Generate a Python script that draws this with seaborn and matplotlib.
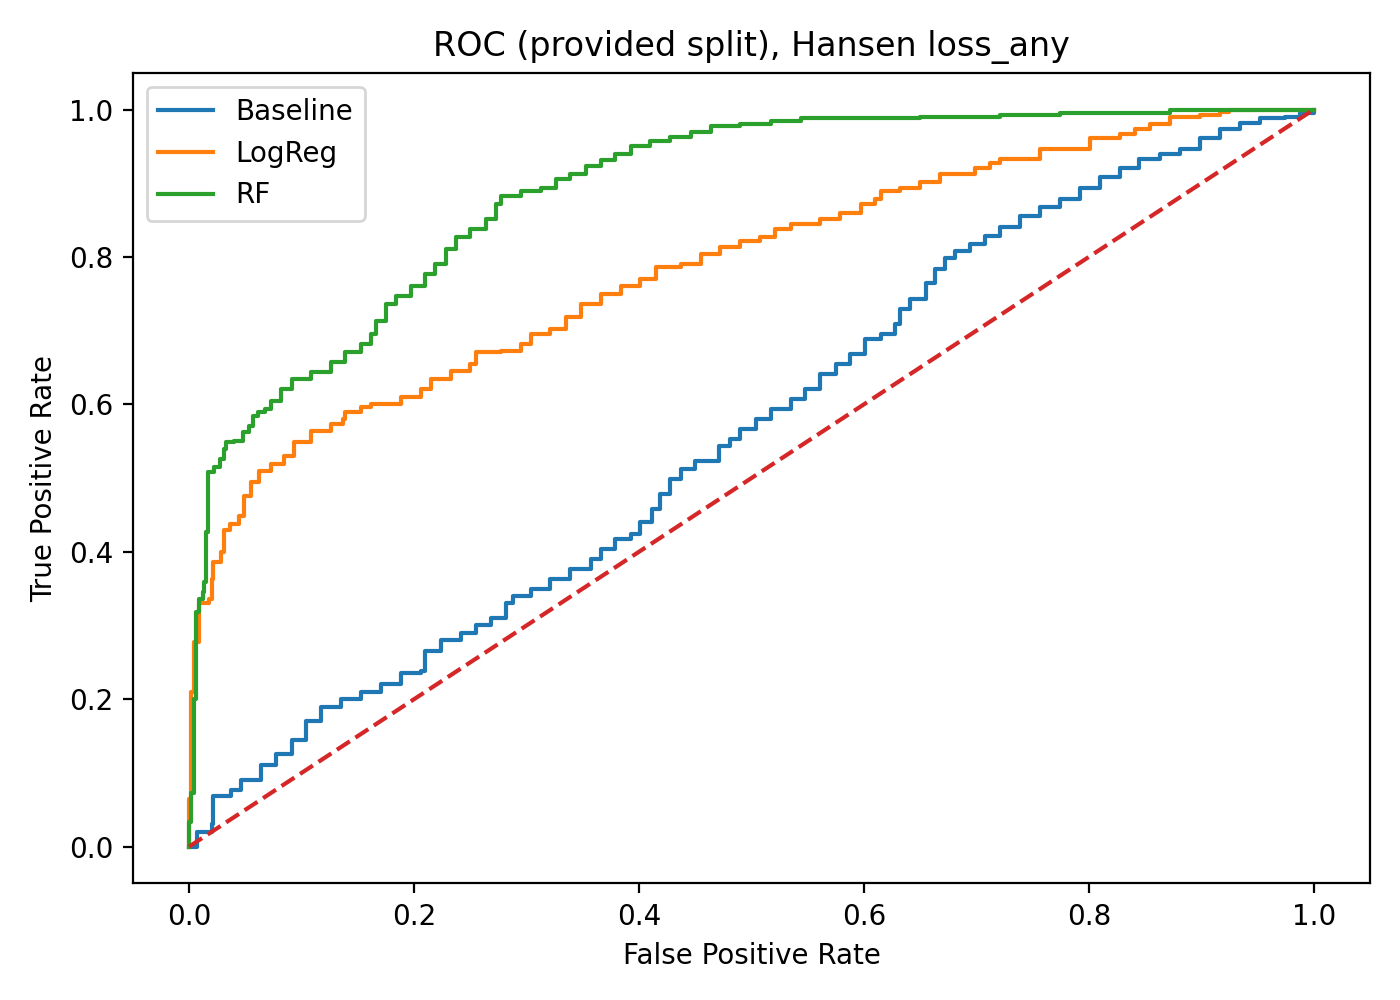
import pandas as pd
import numpy as np
import matplotlib
matplotlib.use("Agg")
import matplotlib.pyplot as plt
import seaborn as sns

# ROC points (false positive rate, true positive rate)
baseline_fpr = [0.0, 0.007, 0.02, 0.021, 0.037, 0.046, 0.064, 0.077, 0.091, 0.104, 0.117, 0.135,
                0.153, 0.171, 0.188, 0.206, 0.21, 0.224, 0.242, 0.255, 0.268, 0.282, 0.288, 0.304,
                0.321, 0.339, 0.357, 0.366, 0.379, 0.393, 0.401, 0.412, 0.419, 0.428, 0.437, 0.45,
                0.468, 0.471, 0.481, 0.49, 0.504, 0.517, 0.535, 0.548, 0.561, 0.575, 0.588, 0.601,
                0.615, 0.628, 0.632, 0.641, 0.655, 0.663, 0.672, 0.681, 0.694, 0.708, 0.721, 0.739,
                0.757, 0.774, 0.792, 0.81, 0.828, 0.845, 0.863, 0.881, 0.899, 0.917, 0.934, 0.952,
                0.974, 0.988, 1.0]
baseline_tpr = [0.0, 0.02, 0.03, 0.068, 0.077, 0.091, 0.111, 0.125, 0.145, 0.17, 0.189, 0.2,
                0.21, 0.22, 0.235, 0.238, 0.265, 0.28, 0.29, 0.3, 0.31, 0.33, 0.34, 0.35,
                0.363, 0.376, 0.39, 0.404, 0.417, 0.424, 0.44, 0.458, 0.478, 0.499, 0.512, 0.523,
                0.523, 0.543, 0.553, 0.567, 0.58, 0.594, 0.607, 0.621, 0.641, 0.655, 0.668, 0.689,
                0.696, 0.709, 0.73, 0.743, 0.764, 0.784, 0.798, 0.808, 0.818, 0.829, 0.841, 0.855,
                0.868, 0.879, 0.893, 0.909, 0.92, 0.933, 0.94, 0.947, 0.961, 0.974, 0.982, 0.988,
                0.99, 0.995, 1.0]

logreg_fpr = [0.0, 0.0, 0.002, 0.004, 0.009, 0.018, 0.02, 0.021, 0.028, 0.031, 0.036, 0.044,
              0.049, 0.055, 0.062, 0.073, 0.084, 0.093, 0.108, 0.126, 0.137, 0.139, 0.153, 0.162,
              0.188, 0.206, 0.215, 0.233, 0.25, 0.255, 0.277, 0.295, 0.304, 0.321, 0.335, 0.348,
              0.366, 0.384, 0.401, 0.415, 0.437, 0.455, 0.472, 0.49, 0.508, 0.521, 0.535, 0.561,
              0.579, 0.597, 0.61, 0.615, 0.632, 0.65, 0.668, 0.686, 0.699, 0.712, 0.721, 0.757,
              0.788, 0.801, 0.828, 0.841, 0.854, 0.872, 0.899, 0.917, 0.925, 1.0]
logreg_tpr = [0.0, 0.064, 0.21, 0.277, 0.33, 0.336, 0.363, 0.386, 0.4, 0.43, 0.437, 0.448,
              0.476, 0.495, 0.51, 0.519, 0.53, 0.549, 0.564, 0.573, 0.58, 0.59, 0.596, 0.6,
              0.61, 0.621, 0.634, 0.645, 0.655, 0.671, 0.672, 0.682, 0.696, 0.702, 0.719, 0.736,
              0.75, 0.76, 0.77, 0.787, 0.791, 0.804, 0.814, 0.822, 0.827, 0.838, 0.845, 0.852,
              0.86, 0.872, 0.879, 0.889, 0.893, 0.902, 0.912, 0.913, 0.92, 0.927, 0.933, 0.947,
              0.947, 0.961, 0.967, 0.974, 0.981, 0.99, 0.993, 0.997, 1.0, 1.0]

rf_fpr = [0.0, 0.0, 0.002, 0.004, 0.006, 0.009, 0.012, 0.013, 0.015, 0.017, 0.017, 0.022,
          0.027, 0.031, 0.033, 0.04, 0.048, 0.053, 0.057, 0.061, 0.067, 0.073, 0.082, 0.091,
          0.108, 0.126, 0.139, 0.153, 0.162, 0.166, 0.175, 0.184, 0.197, 0.21, 0.219, 0.228,
          0.237, 0.25, 0.264, 0.273, 0.277, 0.295, 0.313, 0.326, 0.339, 0.353, 0.366, 0.379,
          0.393, 0.41, 0.428, 0.446, 0.464, 0.49, 0.517, 0.544, 0.615, 0.65, 0.721, 0.774,
          0.872, 1.0]
rf_tpr = [0.0, 0.033, 0.073, 0.2, 0.318, 0.336, 0.345, 0.359, 0.427, 0.485, 0.508, 0.515,
          0.526, 0.539, 0.549, 0.55, 0.562, 0.571, 0.584, 0.59, 0.594, 0.605, 0.621, 0.634,
          0.644, 0.658, 0.671, 0.682, 0.696, 0.713, 0.736, 0.747, 0.76, 0.777, 0.791, 0.811,
          0.827, 0.838, 0.852, 0.872, 0.882, 0.889, 0.893, 0.906, 0.913, 0.923, 0.931, 0.94,
          0.95, 0.957, 0.963, 0.97, 0.977, 0.981, 0.985, 0.988, 0.988, 0.99, 0.992, 0.995,
          0.999, 1.0]

models = ["Baseline", "LogReg", "RF"]
curves = [(baseline_fpr, baseline_tpr), (logreg_fpr, logreg_tpr), (rf_fpr, rf_tpr)]
colors = ["tab:blue", "tab:orange", "tab:green"]


def main():
    fig, ax = plt.subplots(figsize=(7, 5), dpi=200)
    for name, (fpr, tpr), c in zip(models, curves, colors):
        df = pd.DataFrame({"fpr": fpr, "tpr": tpr})
        sns.lineplot(data=df, x="fpr", y="tpr", estimator=None, sort=False,
                     color=c, label=name, linewidth=1.5, drawstyle="steps-post", ax=ax)
    ax.plot([0, 1], [0, 1], linestyle="--", color="tab:red", linewidth=1.5)
    ax.set_title("ROC (provided split), Hansen loss_any")
    ax.set_xlabel("False Positive Rate")
    ax.set_ylabel("True Positive Rate")
    ax.legend(loc="upper left")
    fig.tight_layout()
    fig.savefig("out.png", dpi=200)


if __name__ == "__main__":
    main()
